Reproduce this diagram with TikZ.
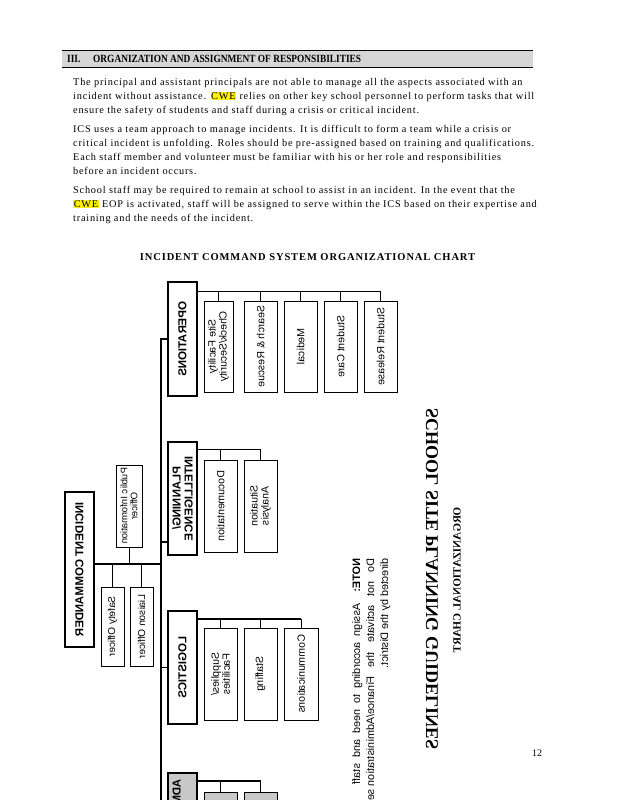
\documentclass[tikz,border=0pt]{standalone}
\usepackage{fontspec}
\setmainfont{Liberation Serif}
\newfontfamily\bodyfont[LetterSpace=7.5]{Liberation Serif}
\newfontfamily\spacedfont[LetterSpace=8.5]{Liberation Serif}
\newfontfamily\arialfont{Liberation Sans}
\usetikzlibrary{calc}
\newcommand\myhl[1]{{\setlength{\fboxsep}{0.6pt}\colorbox{yellow}{#1}}}
\definecolor{barGray}{RGB}{214,214,214}
\definecolor{finGray}{RGB}{200,200,200}
\tikzset{
  sec/.style={draw, line width=1.1pt, fill=white, inner sep=0pt, align=center, font=\arialfont\bfseries\fontsize{11.5}{12}\selectfont},
  unitbox/.style={draw, line width=0.8pt, fill=white, inner sep=0pt, align=center, font=\arialfont\fontsize{10.5}{11}\selectfont},
  offbox/.style={draw, line width=0.9pt, fill=white, inner sep=0pt, align=center, font=\arialfont\fontsize{10}{10.5}\selectfont},
  conn/.style={line width=1.1pt},
  subbus/.style={line width=1.6pt},
  tickline/.style={line width=0.9pt},
  para/.style={anchor=north west, inner sep=0pt, align=left, font=\bodyfont\fontsize{10.3}{14}\selectfont},
}
\begin{document}
\begin{tikzpicture}[x=1pt,y=-1pt]
\useasboundingbox (0,0) rectangle (618,800);
\clip (0,0) rectangle (618,800);
\fill[white] (0,0) rectangle (618,800);
% header bar
\fill[barGray] (62,50) rectangle (533,68);
\draw[line width=0.7pt] (62,50.3) -- (533,50.3);
\draw[line width=1.4pt] (62,67.5) -- (533,67.5);
\node[anchor=west, inner sep=0pt, font=\bfseries\fontsize{11}{12}\selectfont] (secnum) at (67,58.5) {\scalebox{0.85}[1]{III.}};
\node[anchor=west, inner sep=0pt, font=\bfseries\fontsize{11}{12}\selectfont] (sechead) at (93,58.5) {\scalebox{0.85}[1]{ORGANIZATION AND ASSIGNMENT OF RESPONSIBILITIES}};
% paragraphs
\node[para] (par1) at (73,78) {The principal and assistant principals are not able to manage all the aspects associated with an\\
incident without assistance. \myhl{CWE} relies on other key school personnel to perform tasks that will\\
ensure the safety of students and staff during a crisis or critical incident.};
\node[para] (par2) at (73,125.5) {ICS uses a team approach to manage incidents. It is difficult to form a team while a crisis or\\
critical incident is unfolding. Roles should be pre-assigned based on training and qualifications.\\
Each staff member and volunteer must be familiar with his or her role and responsibilities\\
before an incident occurs.};
\node[para] (par3) at (73,186) {School staff may be required to remain at school to assist in an incident. In the event that the\\
\myhl{CWE} EOP is activated, staff will be assigned to serve within the ICS based on their expertise and\\
training and the needs of the incident.};
\node[inner sep=0pt, font=\spacedfont\bfseries\fontsize{10.5}{12}\selectfont] (charttitle) at (307.5,257) {INCIDENT COMMAND SYSTEM ORGANIZATIONAL CHART};
\node[inner sep=0pt, font=\fontsize{10}{12}\selectfont] (pagenum) at (537,753) {12};

% chart, transposed: coordinates are (image y, image x)
\begin{scope}[cm={0,-1,-1,0,(0,0)}, transform shape]
\node[sec, minimum width=155pt, minimum height=29pt] (ic) at (569.5,79.5) {INCIDENT COMMANDER};
\node[offbox, minimum width=82pt, minimum height=26pt, font=\arialfont\fontsize{9.5}{10}\selectfont] (pio) at (506,129) {Public Information\\Officer};
\node[offbox, minimum width=79pt, minimum height=23pt] (safety) at (626.5,112.5) {Safety Officer};
\node[offbox, minimum width=79pt, minimum height=23pt] (liaison) at (626.5,141.5) {Liaison Officer};

\node[sec, minimum width=114pt, minimum height=29pt] (ops) at (339,182.5) {OPERATIONS};
\node[sec, minimum width=113pt, minimum height=29pt] (plan) at (498.5,182.5) {PLANNING/\\INTELLIGENCE};
\node[sec, minimum width=113pt, minimum height=29pt] (log) at (667.5,182.5) {LOGISTICS};
\node[sec, minimum width=114pt, minimum height=29pt, fill=finGray] (fin) at (830,182.5) {ADMINISTRATION/\\FINANCE};

\node[unitbox, minimum width=91pt, minimum height=29pt] (o1) at (346.5,218.5) {Site Facility\\Check/Security};
\node[unitbox, minimum width=91pt, minimum height=33pt] (o2) at (346.5,260.5) {Search \& Rescue};
\node[unitbox, minimum width=91pt, minimum height=33pt] (o3) at (346.5,300.5) {Medical};
\node[unitbox, minimum width=91pt, minimum height=33pt] (o4) at (346.5,340.5) {Student Care};
\node[unitbox, minimum width=91pt, minimum height=33pt] (o5) at (346.5,380.5) {Student Release};

\node[unitbox, minimum width=92pt, minimum height=33pt] (p1) at (506,220.5) {Documentation};
\node[unitbox, minimum width=92pt, minimum height=33pt] (p2) at (506,260.5) {Situation\\Analysis};

\node[unitbox, minimum width=92pt, minimum height=33pt] (l1) at (674,220.5) {Supplies/\\Facilities};
\node[unitbox, minimum width=92pt, minimum height=33pt] (l2) at (674,260.5) {Staffing};
\node[unitbox, minimum width=92pt, minimum height=34pt] (l3) at (674,301) {Communications};

\node[unitbox, minimum width=92pt, minimum height=33pt, fill=finGray] (f1) at (838,220.5) {};
\node[unitbox, minimum width=92pt, minimum height=33pt, fill=finGray] (f2) at (838,260.5) {};

% main bus
\coordinate (bus) at (337,161);
\coordinate (busend) at (900,161);
\draw[conn] (ops.north) -- (ops.north |- bus) -- (busend);
\coordinate (planj) at ($(plan.north)+(43.5,0)$);
\draw[conn] (planj) -- (planj |- bus);
\draw[conn] (log.north) -- (log.north |- bus);
\draw[conn] (fin.north) -- (fin.north |- bus);
% command staff
\coordinate (icj) at ($(ic.south)+(-5.5,0)$);
\draw[conn] (icj) -- (icj |- bus);
\draw[tickline] (pio.east) -- (icj |- pio.east);
\draw[tickline] (safety.west) -- (icj |- safety.west);
\draw[tickline] (liaison.west) -- (icj |- liaison.west);
% operations units
\coordinate (opsj) at ($(ops.south west)+(10,0)$);
\draw[subbus] (opsj) -- (opsj |- o5.west);
\foreach \u in {o1,o2,o3,o4,o5} \draw[tickline] (\u.west) -- (opsj |- \u.west);
% planning units
\coordinate (planb) at ($(plan.south west)+(8,0)$);
\draw[subbus] (planb) -- (planb |- p2.west);
\foreach \u in {p1,p2} \draw[tickline] (\u.west) -- (planb |- \u.west);
% logistics units
\coordinate (logb) at ($(log.south west)+(8.5,0)$);
\draw[subbus] (logb) -- (logb |- l3.west);
\foreach \u in {l1,l2,l3} \draw[tickline] (\u.west) -- (logb |- \u.west);
% finance units
\coordinate (finb) at ($(fin.south west)+(8.7,0)$);
\draw[subbus] (finb) -- (finb |- f2.west);
\foreach \u in {f1,f2} \draw[tickline] (\u.west) -- (finb |- \u.west);

% titles and note
\node[inner sep=0pt, font=\bfseries\fontsize{18}{20}\selectfont] (sitetitle) at (579,432) {SCHOOL SITE PLANNING GUIDELINES};
\node[inner sep=0pt, font=\bfseries\fontsize{11}{12}\selectfont] (subtitle) at (580,457) {ORGANIZATIONAL CHART};
\node[anchor=north west, inner sep=0pt, align=left, font=\arialfont\fontsize{10.8}{14}\selectfont] (note) at (558,352) {\makebox[226pt][s]{\textbf{NOTE:}\ \ Assign according to need and staff}\\\makebox[228pt][s]{Do not activate the Finance/Administration}\ section unless\\directed by the District.};
\end{scope}
\end{tikzpicture}
\end{document}
